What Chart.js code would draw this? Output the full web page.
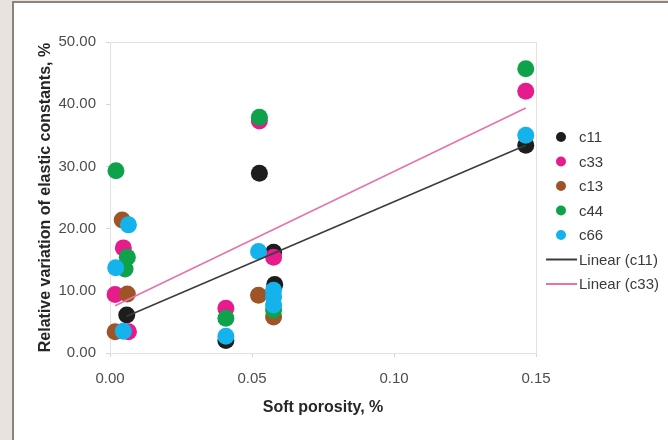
<!DOCTYPE html>
<html>
<head>
<meta charset="utf-8">
<title>Elastic constants vs soft porosity</title>
<script src="https://cdn.jsdelivr.net/npm/chart.js@4.4.1/dist/chart.umd.min.js"></script>
<style>
    html, body { margin: 0; padding: 0; background: #e9e3de; }
    .panel {
        position: absolute; left: 12px; top: 1px; width: 656px; height: 439px;
        background: #fff; border-left: 2px solid #8c837c; border-top: 2px solid #8c837c;
    }
    .chart-box { position: absolute; left: 0; top: 0; width: 668px; height: 440px; }
</style>
</head>
<body>
<div class="panel"></div>
<div class="chart-box"><canvas id="chart" width="668" height="440"></canvas></div>
<script>
// values (soft porosity, relative variation %)
var c11X = [0.0059, 0.0408, 0.0526, 0.0576, 0.0580, 0.1464];
var c11Y = [6.1, 2.0, 28.9, 16.2, 11.0, 33.4];

var c33X = [0.0047, 0.0018, 0.0065, 0.0408, 0.0526, 0.0576, 0.1464];
var c33Y = [16.9, 9.4, 3.4, 7.2, 37.3, 15.4, 42.1];

var c13X = [0.0043, 0.0061, 0.0018, 0.0523, 0.0576];
var c13Y = [21.4, 9.5, 3.4, 9.3, 5.8];

var c44X = [0.0021, 0.0061, 0.0053, 0.0408, 0.0526, 0.0576, 0.1464];
var c44Y = [29.3, 15.4, 13.5, 5.6, 37.9, 6.9, 45.7];

var c66X = [0.0065, 0.0020, 0.0047, 0.0408, 0.0523, 0.0576, 0.0576, 0.0576, 0.1464];
var c66Y = [20.6, 13.7, 3.5, 2.7, 16.3, 10.1, 9.0, 7.7, 35.0];

// trend line end points (Excel "Linear" trendlines)
var trendC11X = [0.0059, 0.1464];
var trendC11Y = [5.9, 33.4];
var trendC33X = [0.0018, 0.1464];
var trendC33Y = [7.6, 39.4];

var xTicks = [0, 0.05, 0.10, 0.15];
var yTicks = [0, 10, 20, 30, 40, 50];

var seriesNames = ['c11', 'c33', 'c13', 'c44', 'c66', 'Linear (c11)', 'Linear (c33)'];

function toPoints(xs, ys) {
    var pts = [];
    for (var i = 0; i < xs.length; i++) {
        pts.push({ x: xs[i], y: ys[i] });
    }
    return pts;
}

function dotSet(name, xs, ys, color, order) {
    return {
        type: 'scatter',
        label: name,
        data: toPoints(xs, ys),
        backgroundColor: color,
        borderColor: color,
        borderWidth: 0,
        pointRadius: 8.5,
        pointHoverRadius: 8.5,
        order: order,
        clip: false
    };
}

function trendSet(name, xs, ys, color) {
    return {
        type: 'line',
        label: name,
        data: toPoints(xs, ys),
        borderColor: color,
        backgroundColor: color,
        borderWidth: 1.6,
        pointRadius: 0,
        fill: false,
        order: 0
    };
}

// frame round the plot area + legend drawn by hand so it sits where Excel put it
var extras = {
    id: 'extras',
    beforeDatasetsDraw: function (chart) {
        var a = chart.chartArea;
        var ctx = chart.ctx;
        ctx.save();
        ctx.strokeStyle = '#e2e2e2';
        ctx.lineWidth = 1;
        ctx.strokeRect(a.left + 0.5, a.top + 0.5, a.right - a.left, a.bottom - a.top);
        ctx.restore();
    },
    afterDraw: function (chart) {
        var ctx = chart.ctx;
        var sets = chart.data.datasets;
        ctx.save();
        ctx.font = '15px "Liberation Sans", Arial, sans-serif';
        ctx.textBaseline = 'middle';
        ctx.fillStyle = '#3a3a3a';
        for (var i = 0; i < seriesNames.length; i++) {
            var ds = sets[i];
            var y = 137 + i * 24.5;
            if (ds.type === 'line') {
                ctx.strokeStyle = ds.borderColor;
                ctx.lineWidth = 2;
                ctx.beginPath();
                ctx.moveTo(546, y);
                ctx.lineTo(577, y);
                ctx.stroke();
            } else {
                ctx.fillStyle = ds.backgroundColor;
                ctx.beginPath();
                ctx.arc(561, y, 5, 0, Math.PI * 2);
                ctx.fill();
            }
            ctx.fillStyle = '#3a3a3a';
            ctx.fillText(ds.label, 579, y + 1);
        }
        ctx.restore();
    }
};

var tickFont = { family: '"Liberation Sans", Arial, sans-serif', size: 15 };
var titleFont = { family: '"Liberation Sans", Arial, sans-serif', size: 16, weight: 'bold' };

var ctx = document.getElementById('chart');
var config = {
    type: 'scatter',
    data: {
        datasets: [
            dotSet(seriesNames[0], c11X, c11Y, '#1d1d1d', 5),
            dotSet(seriesNames[1], c33X, c33Y, '#e61b8c', 4),
            dotSet(seriesNames[2], c13X, c13Y, '#9f5427', 3),
            dotSet(seriesNames[3], c44X, c44Y, '#0ea34b', 2),
            dotSet(seriesNames[4], c66X, c66Y, '#15b3ec', 1),
            trendSet(seriesNames[5], trendC11X, trendC11Y, '#3c3c3c'),
            trendSet(seriesNames[6], trendC33X, trendC33Y, '#e673ac')
        ]
    },
    options: {
        responsive: false,
        animation: false,
        layout: { padding: { left: 0, top: 42, right: 132, bottom: 0 } },
        plugins: {
            legend: { display: false },
            tooltip: { enabled: false }
        },
        scales: {
            x: {
                type: 'linear',
                min: xTicks[0],
                max: xTicks[xTicks.length - 1],
                afterBuildTicks: function (axis) {
                    axis.ticks = xTicks.map(function (v) { return { value: v }; });
                },
                afterFit: function (axis) { axis.height = 87; },
                grid: { drawOnChartArea: false, drawTicks: true, tickLength: 4, color: '#d6d6d6' },
                border: { display: true, color: '#d6d6d6' },
                ticks: {
                    font: tickFont,
                    color: '#4d4d4d',
                    padding: 13,
                    maxRotation: 0,
                    callback: function (v) { return Number(v).toFixed(2); }
                },
                title: {
                    display: true,
                    text: 'Soft porosity, %',
                    font: titleFont,
                    color: '#262626',
                    padding: { top: 0, bottom: 23 }
                }
            },
            y: {
                type: 'linear',
                min: yTicks[0],
                max: yTicks[yTicks.length - 1],
                afterBuildTicks: function (axis) {
                    axis.ticks = yTicks.map(function (v) { return { value: v }; });
                },
                afterFit: function (axis) { axis.width = 110; },
                grid: { drawOnChartArea: false, drawTicks: true, tickLength: 4, color: '#d6d6d6' },
                border: { display: true, color: '#d6d6d6' },
                ticks: {
                    font: tickFont,
                    color: '#4d4d4d',
                    padding: 10,
                    callback: function (v) { return Number(v).toFixed(2); }
                },
                title: {
                    display: true,
                    text: 'Relative variation of elastic constants, %',
                    font: titleFont,
                    color: '#262626',
                    padding: { top: 36, bottom: 0 }
                }
            }
        }
    },
    plugins: [extras]
};

var myChart = new Chart(ctx, config);
</script>
</body>
</html>
